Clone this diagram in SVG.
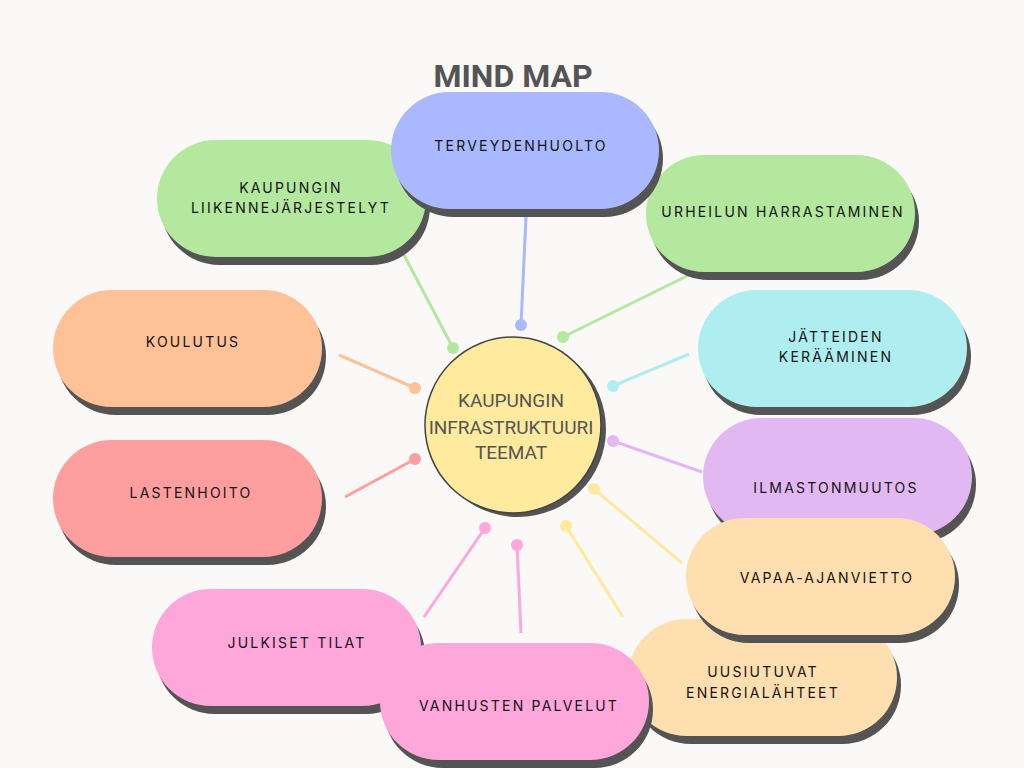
<svg xmlns="http://www.w3.org/2000/svg" width="1024" height="768" viewBox="0 0 1024 768">
<defs>
<style>
.bg{fill:#FAF9F8}
.sh{fill:#545454}
.lbl{font-family:Inter,"Liberation Sans",sans-serif;font-size:14px;letter-spacing:2.2px;fill:#141414;text-anchor:middle}
.title{font-family:Roboto,"Liberation Sans",sans-serif;font-size:32px;font-weight:bold;fill:#545454;text-anchor:middle}
.ctr{font-family:Roboto,"Liberation Sans",sans-serif;font-size:19px;fill:#555555;text-anchor:middle}
.ln{stroke-width:3;fill:none;stroke-linecap:butt}
</style>
</defs>
<rect class="bg" x="0" y="0" width="1024" height="768"/>
<text class="title" x="513" y="87">MIND MAP</text>

<g id="connectors">
<line class="ln" x1="404" y1="255" x2="453" y2="348" stroke="#B4E89F"/><circle cx="453" cy="348" r="6" fill="#B4E89F"/>
<line class="ln" x1="526" y1="217" x2="521" y2="325" stroke="#A9B8FF"/><circle cx="521" cy="325" r="6" fill="#A9B8FF"/>
<line class="ln" x1="693" y1="273" x2="563" y2="337" stroke="#B4E89F"/><circle cx="563" cy="337" r="6" fill="#B4E89F"/>
<line class="ln" x1="689" y1="354" x2="613" y2="386" stroke="#AFEEF0"/><circle cx="613" cy="386" r="6" fill="#AFEEF0"/>
<line class="ln" x1="702" y1="472" x2="613" y2="441" stroke="#E2B8F2"/><circle cx="613" cy="441" r="6" fill="#E2B8F2"/>
<line class="ln" x1="682" y1="563" x2="594" y2="489" stroke="#FFE99C"/><circle cx="594" cy="489" r="6" fill="#FFE99C"/>
<line class="ln" x1="623" y1="617" x2="566" y2="526" stroke="#FFE99C"/><circle cx="566" cy="526" r="6" fill="#FFE99C"/>
<line class="ln" x1="521" y1="633" x2="517" y2="545" stroke="#FFA6DA"/><circle cx="517" cy="545" r="6" fill="#FFA6DA"/>
<line class="ln" x1="424" y1="617" x2="485" y2="528" stroke="#FFA6DA"/><circle cx="485" cy="528" r="6" fill="#FFA6DA"/>
<line class="ln" x1="345" y1="497" x2="415" y2="459" stroke="#FF9E9E"/><circle cx="415" cy="459" r="6" fill="#FF9E9E"/>
<line class="ln" x1="339" y1="355" x2="415" y2="388" stroke="#FFC196"/><circle cx="415" cy="388" r="6" fill="#FFC196"/>
</g>

<g id="center">
<circle cx="518" cy="429" r="88" class="sh"/>
<circle cx="513" cy="425" r="88" fill="#FFEA9E" stroke="#444444" stroke-width="1.5"/>
<text class="ctr" x="511" y="407">KAUPUNGIN</text>
<text class="ctr" x="511" y="434">INFRASTRUKTUURI</text>
<text class="ctr" x="511" y="459">TEEMAT</text>
</g>

<g id="liikenne">
<rect class="sh" x="161" y="148" width="269" height="117" rx="58.5"/>
<rect x="157" y="140" width="269" height="117" rx="58.5" fill="#B4E89F"/>
<text class="lbl" x="291" y="193">KAUPUNGIN</text>
<text class="lbl" x="291" y="213">LIIKENNEJÄRJESTELYT</text>
</g>

<g id="urheilu">
<rect class="sh" x="650" y="163" width="269" height="117" rx="58.5"/>
<rect x="646" y="155" width="269" height="117" rx="58.5" fill="#B4E89F"/>
<text class="lbl" x="783" y="217">URHEILUN HARRASTAMINEN</text>
</g>

<g id="terveydenhuolto">
<rect class="sh" x="395" y="100" width="268" height="117" rx="58.5"/>
<rect x="391" y="92" width="268" height="117" rx="58.5" fill="#A9B8FF"/>
<text class="lbl" x="521" y="151">TERVEYDENHUOLTO</text>
</g>

<g id="koulutus">
<rect class="sh" x="57" y="298" width="269" height="117" rx="58.5"/>
<rect x="53" y="290" width="269" height="117" rx="58.5" fill="#FFC196"/>
<text class="lbl" x="193" y="347">KOULUTUS</text>
</g>

<g id="lastenhoito">
<rect class="sh" x="57" y="448" width="269" height="117" rx="58.5"/>
<rect x="53" y="440" width="269" height="117" rx="58.5" fill="#FF9E9E"/>
<text class="lbl" x="191" y="498">LASTENHOITO</text>
</g>

<g id="jatteiden">
<rect class="sh" x="702" y="298" width="269" height="117" rx="58.5"/>
<rect x="698" y="290" width="269" height="117" rx="58.5" fill="#AFEEF0"/>
<text class="lbl" x="836" y="342">JÄTTEIDEN</text>
<text class="lbl" x="836" y="362">KERÄÄMINEN</text>
</g>

<g id="ilmasto">
<rect class="sh" x="707" y="426" width="269" height="117" rx="58.5"/>
<rect x="703" y="418" width="269" height="117" rx="58.5" fill="#E2B8F2"/>
<text class="lbl" x="836" y="493">ILMASTONMUUTOS</text>
</g>

<g id="uusiutuvat">
<rect class="sh" x="632" y="627" width="269" height="117" rx="58.5"/>
<rect x="628" y="619" width="269" height="117" rx="58.5" fill="#FFDFB0"/>
<text class="lbl" x="763" y="677">UUSIUTUVAT</text>
<text class="lbl" x="763" y="698">ENERGIALÄHTEET</text>
</g>

<g id="vapaa">
<rect class="sh" x="690" y="526" width="269" height="117" rx="58.5"/>
<rect x="686" y="518" width="269" height="117" rx="58.5" fill="#FFDFB0"/>
<text class="lbl" x="827" y="583">VAPAA-AJANVIETTO</text>
</g>

<g id="julkiset">
<rect class="sh" x="156" y="597" width="269" height="117" rx="58.5"/>
<rect x="152" y="589" width="269" height="117" rx="58.5" fill="#FFA6DA"/>
<text class="lbl" x="297" y="648">JULKISET TILAT</text>
</g>

<g id="vanhusten">
<rect class="sh" x="384" y="651" width="269" height="117" rx="58.5"/>
<rect x="380" y="643" width="269" height="117" rx="58.5" fill="#FFA6DA"/>
<text class="lbl" x="519" y="711">VANHUSTEN PALVELUT</text>
</g>
</svg>
